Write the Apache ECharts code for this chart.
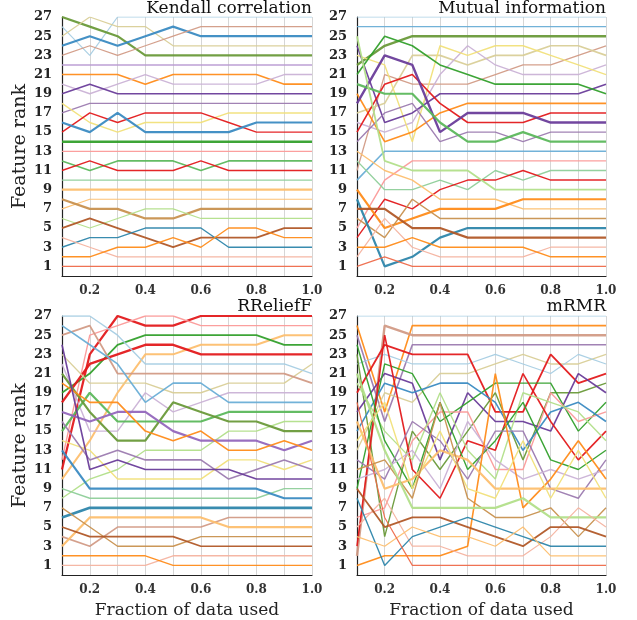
<!DOCTYPE html>
<html>
<head>
<meta charset="utf-8">
<script src="https://cdn.jsdelivr.net/npm/echarts@6/dist/echarts.min.js"></script>
<style>
html,body{margin:0;padding:0;background:#fff}
#main{width:637px;height:620px}
</style>
</head>
<body>
<div id="main"></div>
<script>
// fraction of the data used (x values)
var fractions = [0.1, 0.2, 0.3, 0.4, 0.5, 0.6, 0.7, 0.8, 0.9, 1.0];
var rankTicks = [1, 3, 5, 7, 9, 11, 13, 15, 17, 19, 21, 23, 25, 27];
var panelTitles = ["Kendall correlation", "Mutual information", "RReliefF", "mRMR"];

// rank of each feature at every fraction, one row per feature
var kendallRanks = [
  [26,23,27,27,27,27,27,27,27,27],
  [27,26,25,23,23,23,23,23,23,23],
  [25,27,26,26,24,24,24,24,24,24],
  [24,25,24,25,26,25,25,25,25,25],
  [23,24,23,24,25,26,26,26,26,26],
  [22,22,22,22,22,22,22,22,22,22],
  [21,21,21,20,21,21,21,21,20,20],
  [20,19,20,21,20,20,20,20,21,21],
  [19,20,19,19,19,19,19,19,19,19],
  [17,18,18,18,18,18,18,18,18,18],
  [18,16,15,16,16,16,17,17,17,17],
  [15,17,16,17,17,17,16,15,15,15],
  [16,15,17,15,15,15,15,16,16,16],
  [14,14,14,14,14,14,14,14,14,14],
  [13,13,13,13,13,13,13,13,13,13],
  [12,11,12,12,12,11,12,12,12,12],
  [11,12,11,11,11,12,11,11,11,11],
  [10,10,10,10,10,10,10,10,10,10],
  [9,9,9,9,9,9,9,9,9,9],
  [7,8,8,8,8,8,8,8,8,8],
  [8,7,7,6,6,7,7,7,7,7],
  [6,5,6,7,7,6,6,6,6,6],
  [5,6,5,4,3,4,4,4,5,5],
  [3,4,4,5,5,5,3,3,3,3],
  [4,3,2,2,2,2,2,2,2,2],
  [2,2,3,3,4,3,5,5,4,4],
  [1,1,1,1,1,1,1,1,1,1]
];
var kendallColors = ["lb","ol","tn","bl","sb","lp2","or","lp","pu","mv","ye","rd","bl","gr","pk","mg","rd","sg","lo","lo","tb","lg","br","te","sa","or","ro"];
var kendallWidths = [1.2,2.2,1.2,2.2,1.2,1.4,1.6,1.4,1.6,1.4,1.4,1.4,2.2,2.6,1.2,1.6,1.4,1.2,2.2,1.2,2.2,1.2,1.8,1.4,1.2,1.4,1.2];

var mutualRanks = [
  [27,27,27,27,27,27,27,27,27,27],
  [26,26,26,26,26,26,26,26,26,26],
  [22,24,25,25,25,25,25,25,25,25],
  [11,21,20,20,20,21,22,22,23,24],
  [17,18,23,23,22,23,23,24,24,23],
  [16,15,16,21,24,22,21,21,21,22],
  [23,22,14,24,23,24,24,23,22,21],
  [24,16,17,19,19,19,19,19,19,20],
  [21,25,24,22,21,20,20,20,20,19],
  [19,14,15,17,18,18,18,18,18,18],
  [15,20,21,18,16,16,16,17,17,17],
  [18,23,22,15,17,17,17,16,16,16],
  [14,17,18,14,15,15,14,15,15,15],
  [20,19,19,16,14,14,15,14,14,14],
  [10,13,13,13,13,13,13,13,13,13],
  [5,10,12,12,12,12,12,12,12,12],
  [12,9,9,10,9,11,10,11,11,11],
  [4,8,7,9,10,10,11,10,10,10],
  [25,12,11,11,11,9,9,9,9,9],
  [13,11,10,8,8,8,7,7,7,7],
  [9,5,6,7,7,7,8,8,8,8],
  [6,4,8,6,6,6,6,6,6,6],
  [8,1,2,4,5,5,5,5,5,5],
  [7,7,5,5,4,4,4,4,4,4],
  [2,6,3,2,2,2,2,3,3,3],
  [3,3,4,3,3,3,3,2,2,2],
  [1,2,1,1,1,1,1,1,1,1]
];
var mutualColors = ["lb","bl2","ol","sb","tn","lp","ye","pu","gr","or","rd","pu","mv","mg","bl2","pk","sg","rd","lg","lo","or","tb","te","br","sa","or","ro"];
var mutualWidths = [1.2,1.4,2.4,1.3,1.6,1.4,1.4,1.6,1.6,1.6,1.6,2.4,1.4,2.2,1.6,1.4,1.4,1.4,1.8,1.4,2.2,1.4,2.2,2.2,1.2,1.4,1.2];

var reliefRanks = [
  [11,23,27,26,26,27,27,27,27,27],
  [12,25,26,27,27,26,26,26,26,26],
  [10,14,19,23,23,24,24,24,25,25],
  [19,21,24,25,25,25,25,25,24,24],
  [18,22,23,24,24,23,23,23,23,23],
  [23,20,20,20,19,19,20,20,20,22],
  [27,27,25,22,22,22,22,22,22,21],
  [25,26,21,21,21,21,21,21,21,20],
  [22,15,15,19,17,18,19,19,19,19],
  [26,24,22,18,20,20,18,18,18,18],
  [15,19,16,16,16,16,17,17,17,17],
  [8,10,11,13,13,13,15,15,16,16],
  [21,17,14,14,18,17,16,16,15,15],
  [17,16,17,17,15,14,14,14,13,14],
  [20,18,18,15,14,15,13,13,14,13],
  [14,13,10,10,10,10,12,12,11,12],
  [16,12,13,12,12,12,10,11,12,11],
  [24,11,12,11,11,11,11,10,10,10],
  [9,8,8,8,8,8,8,8,9,9],
  [13,9,9,9,9,9,9,9,8,8],
  [6,7,7,7,7,7,7,7,7,7],
  [4,3,5,5,5,5,6,6,6,6],
  [3,6,6,6,6,6,5,5,5,5],
  [7,5,3,3,3,4,4,4,4,4],
  [5,4,4,4,4,3,3,3,3,3],
  [1,1,1,1,2,2,2,2,2,2],
  [2,2,2,2,1,1,1,1,1,1]
];
var reliefColors = ["rd","pk","lo","gr","rd","tn","lb","sb","lp","bl2","mg","lg","ol","pu2","or","ye","mv","pu","sg","bl","te","sb","lo","tb","br","sa","or"];
var reliefWidths = [2.2,1.4,2.0,1.8,2.4,1.4,1.4,1.8,1.4,1.6,2.2,1.4,2.2,2.2,1.6,1.4,1.6,1.6,1.4,2.2,2.6,1.6,2.2,1.4,1.6,1.4,1.4];

var mrmrRanks = [
  [27,27,27,27,27,27,27,27,27,27],
  [26,17,26,26,26,26,26,26,26,26],
  [2,26,25,25,25,25,25,25,25,25],
  [25,16,24,24,24,24,24,24,24,24],
  [13,19,18,21,21,22,23,22,22,23],
  [22,23,22,22,22,23,22,21,23,22],
  [19,24,23,23,23,17,17,23,20,21],
  [23,4,15,11,15,19,12,19,19,20],
  [17,21,20,12,19,16,16,15,21,19],
  [9,22,21,16,18,20,20,20,15,18],
  [6,7,14,17,17,11,11,19,16,17],
  [15,20,19,20,20,18,13,17,18,16],
  [3,25,11,8,14,13,21,16,12,15],
  [20,15,12,19,13,10,19,18,17,14],
  [24,14,9,18,11,14,18,12,11,13],
  [12,10,16,14,10,15,15,9,8,12],
  [10,11,13,9,16,12,10,11,10,11],
  [1,2,2,2,3,21,7,10,14,10],
  [16,9,10,13,12,9,9,9,9,9],
  [14,18,9,15,9,8,14,8,13,8],
  [11,12,8,18,8,6,6,7,4,7],
  [21,13,7,7,7,7,8,6,6,6],
  [5,8,3,3,2,2,2,4,7,5],
  [9,5,6,6,5,4,3,5,5,4],
  [8,1,4,5,6,5,4,3,3,3],
  [4,3,5,4,4,3,5,2,2,2],
  [18,6,1,1,1,1,1,1,1,1]
];
var mrmrColors = ["lb","or","sb","mv","tn","lb","rd","ol","pu","gr","pk","bl","rd","lg","gr","mv","lp","or","lo","ye","tb","lg","sa","br","te","lo","ro"];
var mrmrWidths = [1.2,1.6,2.4,1.6,1.4,1.2,1.8,1.4,1.6,1.4,1.4,1.6,1.6,1.4,1.4,1.4,1.4,1.6,2.2,1.4,1.4,2.2,1.2,1.8,1.4,1.2,1.2];

var palette = {
  lb: "#a6cee3", bl: "#3b8bc2", bl2: "#6aaed6", te: "#2e86ab",
  lg: "#b2df8a", gr: "#33a02c", mg: "#5cb85c", sg: "#8fcf9a", ol: "#6a9a3a",
  pk: "#fb9a99", rd: "#e31a1c", ro: "#ee6a4a",
  lo: "#fdbf6f", or: "#ff8c1a",
  lp: "#cab2d6", lp2: "#b99ad2", pu: "#6a3d9a", pu2: "#9467bd", mv: "#9c7bb0",
  ye: "#f1e07a", tn: "#d9cf98", sb: "#d29b86", sa: "#f4b3a0",
  tb: "#c8914f", br: "#b15928"
};

var chartDom = document.getElementById("main");
var myChart = echarts.init(chartDom);

var serif = "DejaVu Serif";
var grids = [
  {left: 62, top: 17, width: 250, height: 259},
  {left: 357, top: 17, width: 249, height: 259},
  {left: 62, top: 316, width: 250, height: 259},
  {left: 357, top: 316, width: 249, height: 259}
];

function makeX(i) {
  return {
    type: "value", gridIndex: i, min: 0.1, max: 1.0, interval: 0.1,
    axisLine: {show: true, lineStyle: {color: "#222", width: 1.2}},
    axisTick: {show: false},
    splitLine: {show: true, lineStyle: {color: "#d6d6d6", width: 1}},
    axisLabel: {
      fontFamily: serif, fontWeight: "bold", fontSize: 12, color: "#333", margin: 9,
      formatter: function (v) {
        var k = Math.round(v * 10);
        return k % 2 === 0 ? (k / 10).toFixed(1) : "";
      }
    },
    name: i >= 2 ? "Fraction of data used" : "",
    nameLocation: "middle", nameGap: 27,
    nameTextStyle: {fontFamily: serif, fontSize: 17, color: "#222"}
  };
}
function makeY(i) {
  return {
    type: "value", gridIndex: i, min: 0, max: 27,
    axisLine: {show: true, lineStyle: {color: "#222", width: 1.2}},
    axisTick: {show: false},
    splitLine: {show: false},
    axisLabel: {
      customValues: rankTicks,
      fontFamily: serif, fontWeight: "bold", fontSize: 13, color: "#222", margin: 10
    },
    name: i % 2 === 0 ? "Feature rank" : "",
    nameLocation: "middle", nameGap: 30,
    nameTextStyle: {fontFamily: serif, fontSize: 19, color: "#222"}
  };
}

var panels = [
  [kendallRanks, kendallColors, kendallWidths],
  [mutualRanks, mutualColors, mutualWidths],
  [reliefRanks, reliefColors, reliefWidths],
  [mrmrRanks, mrmrColors, mrmrWidths]
];
var series = [];
panels.forEach(function (p, pi) {
  p[0].forEach(function (ranks, li) {
    series.push({
      type: "line", xAxisIndex: pi, yAxisIndex: pi,
      symbol: "none", silent: true,
      lineStyle: {color: palette[p[1][li]], width: p[2][li], opacity: 0.95},
      data: fractions.map(function (x, k) { return [x, ranks[k]]; })
    });
  });
});

var titles = panelTitles.map(function (t, i) {
  return {
    text: t, right: i % 2 === 0 ? 325 : 31, top: i < 2 ? 0 : 298, padding: 0,
    textStyle: {fontFamily: serif, fontSize: 17, fontWeight: "normal", color: "#111"}
  };
});

var option = {
  animation: false,
  title: titles,
  grid: grids,
  xAxis: [0, 1, 2, 3].map(makeX),
  yAxis: [0, 1, 2, 3].map(makeY),
  series: series
};
option && myChart.setOption(option);
</script>
</body>
</html>
